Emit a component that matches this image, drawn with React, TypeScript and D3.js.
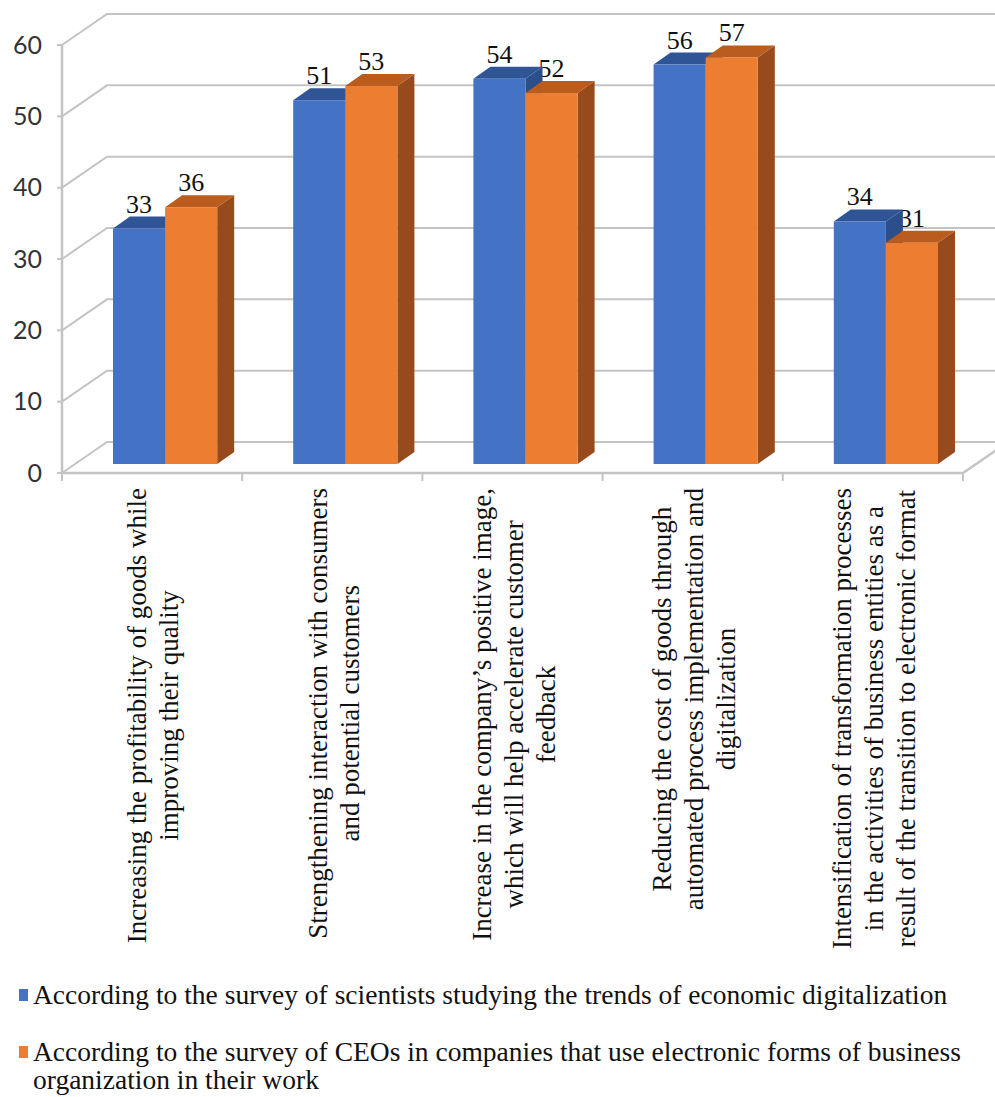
import React, { useEffect, useRef } from "react";
import * as d3 from "d3";

const categories: string[][] = [
  ["Increasing the profitability of goods while", "improving their quality"],
  ["Strengthening interaction with consumers", "and potential customers"],
  ["Increase in the company’s positive image,", "which will help accelerate customer", "feedback"],
  ["Reducing the cost of goods through", "automated process implementation and", "digitalization"],
  ["Intensification of transformation processes", "in the activities of business entities as a", "result of the transition to electronic format"],
];
const seriesNames = [
  "According to the survey of scientists studying the trends of economic digitalization",
  "According to the survey of CEOs in companies that use electronic forms of business organization in their work",
];
const scientists = [33, 51, 54, 56, 34];
const ceos = [36, 53, 52, 57, 31];
const yTicks = [0, 10, 20, 30, 40, 50, 60];

const W = 995;
const H = 1097;

export default function App() {
  const ref = useRef<SVGSVGElement>(null);

  useEffect(() => {
    const svg = d3.select(ref.current);
    svg.selectAll("*").remove();

    const left = 62, right = 963, floorY = 473;
    const depthDx = 45, depthDy = -31;
    const barFrontDx = 13, barFrontDy = -9;
    const barDx = 17, barDy = -12;
    const grid = "#c4c4c4";
    const serif = "'Liberation Serif', 'Times New Roman', serif";

    const catIdx = categories.map((_, i) => String(i));
    const x0 = d3.scaleBand<string>().domain(catIdx).range([left, right]).padding(0);
    const x1 = d3.scaleBand<string>().domain(["0", "1"]).range([38, x0.bandwidth() - 38]).padding(0);
    const yH = d3.scaleLinear().domain([0, 60]).range([0, 428]);

    // back wall gridlines + left wall diagonals
    yTicks.forEach((t) => {
      const yf = floorY - yH(t);
      const yb = yf + depthDy;
      svg.append("path")
        .attr("d", `M${left},${yf}L${left + depthDx},${yb}L${W + 5},${yb}`)
        .attr("fill", "none").attr("stroke", grid).attr("stroke-width", 2);
      svg.append("line").attr("x1", left - 5).attr("x2", left).attr("y1", yf).attr("y2", yf)
        .attr("stroke", grid).attr("stroke-width", 2);
      svg.append("text").attr("x", 42).attr("y", yf).attr("dy", "0.35em")
        .attr("text-anchor", "end").attr("font-family", "Lato, 'Open Sans', sans-serif")
        .attr("font-size", 25).attr("fill", "#333").text(String(t));
    });
    // vertical axis line
    svg.append("line").attr("x1", left).attr("x2", left).attr("y1", floorY - yH(60)).attr("y2", floorY)
      .attr("stroke", grid).attr("stroke-width", 2.5);
    // floor front edge + right diagonal
    svg.append("path")
      .attr("d", `M${left},${floorY}L${right},${floorY}L${right + depthDx},${floorY + depthDy}`)
      .attr("fill", "none").attr("stroke", grid).attr("stroke-width", 2.5);
    // category ticks
    d3.range(categories.length + 1).forEach((i) => {
      const x = left + i * x0.bandwidth();
      svg.append("line").attr("x1", x).attr("x2", x).attr("y1", floorY).attr("y2", floorY + 8)
        .attr("stroke", grid).attr("stroke-width", 2);
    });

    // category labels
    const fsCat = 27;
    const lineGap = 32;
    categories.forEach((lines, i) => {
      const cx = (x0(String(i)) as number) + x0.bandwidth() / 2;
      const g = svg.append("g");
      const texts = lines.map((ln) =>
        g.append("text").attr("font-family", serif)
          .attr("font-size", fsCat).attr("fill", "#111").attr("text-anchor", "middle").text(ln)
      );
      const maxLen = d3.max(texts, (t) => (t.node() as SVGTextElement).getComputedTextLength()) || 0;
      const yc = 488 + maxLen / 2;
      const n = lines.length;
      texts.forEach((t, k) => {
        const bx = cx + (k - (n - 1) / 2) * lineGap + 0.38 * fsCat;
        t.attr("transform", `translate(${bx},${yc}) rotate(-90)`);
      });
    });

    // value labels
    const data = [scientists, ceos];
    data.forEach((vals, s) => {
      vals.forEach((v, i) => {
        const xl = (x0(String(i)) as number) + (x1(String(s)) as number) + barFrontDx;
        const yTop = floorY + barFrontDy - yH(v);
        svg.append("text").attr("x", xl + x1.bandwidth() / 2).attr("y", yTop + barDy - 4)
          .attr("text-anchor", "middle").attr("font-family", serif)
          .attr("font-size", 26).attr("fill", "#111").text(String(v));
      });
    });

    // bars
    const colors = [
      { front: "#4472c4", top: "#2f5597", side: "#2c4f8c" },
      { front: "#ed7d31", top: "#b95c1d", side: "#974a1c" },
    ];
    categories.forEach((_, i) => {
      data.forEach((vals, s) => {
        const v = vals[i];
        const c = colors[s];
        const xl = (x0(String(i)) as number) + (x1(String(s)) as number) + barFrontDx;
        const xr = xl + x1.bandwidth();
        const yb = floorY + barFrontDy;
        const yt = yb - yH(v);
        const g = svg.append("g");
        g.append("path").attr("d", `M${xr},${yb}L${xr + barDx},${yb + barDy}L${xr + barDx},${yt + barDy}L${xr},${yt}Z`).attr("fill", c.side);
        g.append("path").attr("d", `M${xl},${yt}L${xl + barDx},${yt + barDy}L${xr + barDx},${yt + barDy}L${xr},${yt}Z`).attr("fill", c.top);
        g.append("rect").attr("x", xl).attr("y", yt).attr("width", xr - xl).attr("height", yb - yt).attr("fill", c.front);
      });
    });

    // legend
    const leg = [
      { color: "#4472c4", lines: [seriesNames[0]], y: 1004 },
      { color: "#ed7d31", lines: ["According to the survey of CEOs in companies that use electronic forms of business", "organization in their work"], y: 1061 },
    ];
    leg.forEach((l) => {
      svg.append("rect").attr("x", 19).attr("y", l.y - 15).attr("width", 9).attr("height", 12).attr("fill", l.color);
      l.lines.forEach((ln, k) => {
        svg.append("text").attr("x", 33).attr("y", l.y + k * 28).attr("font-family", serif)
          .attr("font-size", 27.5).attr("fill", "#111").text(ln);
      });
    });
  }, []);

  return (
    <svg ref={ref} width={W} height={H} style={{ position: "absolute", left: 0, top: 0, background: "#fff" }} />
  );
}
